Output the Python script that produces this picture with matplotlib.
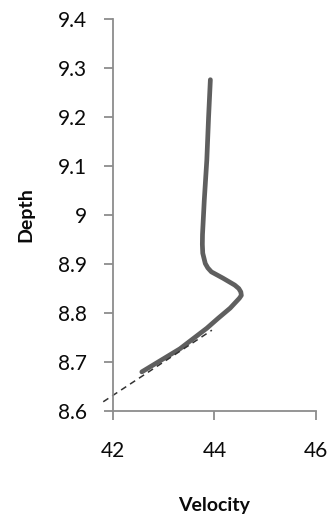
import matplotlib.pyplot as plt

# velocity profile (solid) and the fitted log line (dashed)
velocity = [43.92, 43.885, 43.85, 43.80, 43.765, 43.762, 43.77, 43.82, 43.87, 43.94, 44.17,
            44.40, 44.48, 44.52, 44.53, 44.49, 44.31, 44.07, 43.85, 43.32, 42.57]
depth = [9.276, 9.20, 9.112, 9.03, 8.96, 8.94, 8.922, 8.901, 8.892, 8.884, 8.871,
         8.857, 8.850, 8.843, 8.836, 8.830, 8.810, 8.789, 8.769, 8.727, 8.680]

fit_velocity = [41.81, 43.95]
fit_depth = [8.619, 8.765]

plt.rcParams['font.family'] = ['Lato', 'DejaVu Sans']

fig = plt.figure(figsize=(3.34, 5.25), dpi=100)
ax = fig.add_axes([0.338, 0.217, 0.608, 0.747])

ax.plot(velocity, depth, color='#5f5f5f', lw=3.4, solid_capstyle='round', solid_joinstyle='round')
ax.plot(fit_velocity, fit_depth, color='#333333', lw=1.1, ls=(0, (4, 3)), clip_on=False)

ax.set_xlim(42, 46)
ax.set_ylim(8.6, 9.4)
ax.set_xticks([42, 44, 46])
ax.set_yticks([8.6, 8.7, 8.8, 8.9, 9.0, 9.1, 9.2, 9.3, 9.4])
ax.set_yticklabels(['8.6', '8.7', '8.8', '8.9', '9', '9.1', '9.2', '9.3', '9.4'])

for side in ['top', 'right']:
    ax.spines[side].set_visible(False)
for side in ['left', 'bottom']:
    ax.spines[side].set_color('#8c8c8c')
    ax.spines[side].set_linewidth(1.3)

ax.tick_params(axis='both', colors='#8c8c8c', length=6.5, width=1.3, labelsize=15, labelcolor='#0a0a0a')
ax.tick_params(axis='x', pad=15)
ax.tick_params(axis='y', pad=12)

ax.set_xlabel('Velocity', fontsize=14, fontweight='bold', color='#0a0a0a', labelpad=26)
ax.set_ylabel('Depth', fontsize=14, fontweight='bold', color='#0a0a0a', labelpad=17)

fig.savefig('out.png', dpi=100)
